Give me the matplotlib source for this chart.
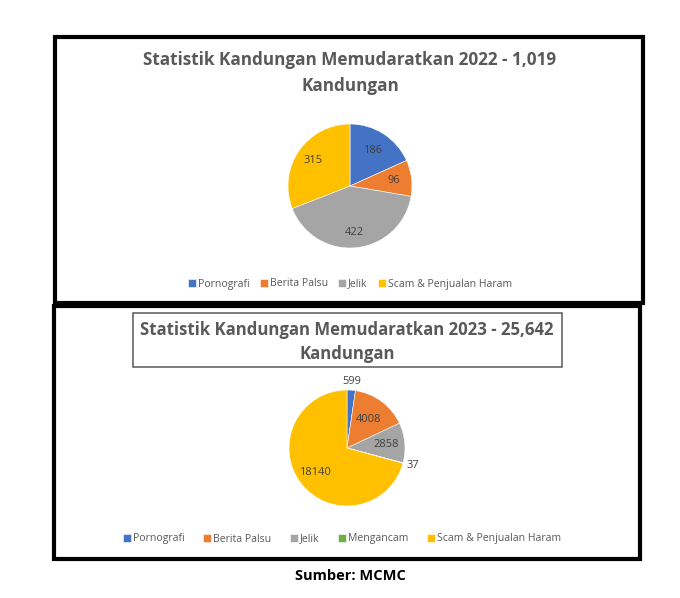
import numpy as np
import matplotlib
matplotlib.use('Agg')
import matplotlib.pyplot as plt
from matplotlib.patches import Rectangle

# chart data
labels_2022 = ['Pornografi', 'Berita Palsu', 'Jelik', 'Scam & Penjualan Haram']
values_2022 = [186, 96, 422, 315]
labels_2023 = ['Pornografi', 'Berita Palsu', 'Jelik', 'Mengancam', 'Scam & Penjualan Haram']
values_2023 = [599, 4008, 2858, 37, 18140]
title_2022 = 'Statistik Kandungan Memudaratkan 2022 - 1,019\nKandungan'
title_2023 = 'Statistik Kandungan Memudaratkan 2023 - 25,642\nKandungan'
source_text = 'Sumber: MCMC'

colours = {
    'Pornografi': '#4472C4',
    'Berita Palsu': '#ED7D31',
    'Jelik': '#A5A5A5',
    'Mengancam': '#70AD47',
    'Scam & Penjualan Haram': '#FFC000',
}

plt.rcParams['font.family'] = ['Open Sans', 'DejaVu Sans']

W, H = 680, 598
fig = plt.figure(figsize=(W / 100, H / 100), dpi=100)


def fx(px):
    return px / W


def fy(py):
    return 1 - py / H


def draw_pie(cx, cy, r, values, labels, dists):
    ax = fig.add_axes([fx(cx - r), fy(cy + r), 2 * r / W, 2 * r / H])
    wedges, _ = ax.pie(values, colors=[colours[l] for l in labels], startangle=90,
                       counterclock=False, radius=1,
                       wedgeprops=dict(linewidth=0.4, edgecolor='white'))
    for w, v, d in zip(wedges, values, dists):
        ang = np.deg2rad((w.theta1 + w.theta2) / 2)
        ax.text(d * np.cos(ang), d * np.sin(ang), str(v), ha='center', va='center',
                fontsize=8, color='#404040')
    ax.set_xlim(-1, 1)
    ax.set_ylim(-1, 1)
    ax.axis('off')
    return wedges


def box(x0, y0, x1, y1, lw, color):
    fig.add_artist(Rectangle((fx(x0), fy(y1)), fx(x1) - fx(x0), fy(y0) - fy(y1),
                             transform=fig.transFigure, fill=False,
                             linewidth=lw, edgecolor=color))


# outer frames
box(55, 37, 643, 303, 3.0, 'black')
box(54, 306, 640, 559, 3.0, 'black')
# frame round the 2023 title
box(133, 313, 562, 367, 1.1, '#595959')

# titles
fig.text(fx(350), fy(73), title_2022, ha='center', va='center', fontsize=12.3,
         fontweight='bold', color='#595959', linespacing=1.55)
fig.text(fx(347), fy(342), title_2023, ha='center', va='center', fontsize=12.1,
         fontweight='bold', color='#595959', linespacing=1.4)

# pies
w22 = draw_pie(350, 186, 62, values_2022, labels_2022, [0.68, 0.72, 0.75, 0.72])
w23 = draw_pie(347, 448, 58, values_2023, labels_2023, [1.15, 0.62, 0.68, 1.18, 0.7])

# legends
leg_kw = dict(frameon=False, fontsize=7.6, handlelength=0.75, handleheight=0.75,
              handletextpad=0.2, labelcolor='#595959', borderaxespad=0)
fig.legend(w22, labels_2022, loc='center', bbox_to_anchor=(fx(350), fy(284)),
           ncol=4, columnspacing=0.97, **leg_kw)
fig.legend(w23, labels_2023, loc='center', bbox_to_anchor=(fx(342), fy(539)),
           ncol=5, columnspacing=1.75, **leg_kw)

fig.text(fx(350), fy(576), source_text, ha='center', va='center', fontsize=10.5,
         fontweight='bold', color='black')

fig.savefig('out.png', dpi=100)
